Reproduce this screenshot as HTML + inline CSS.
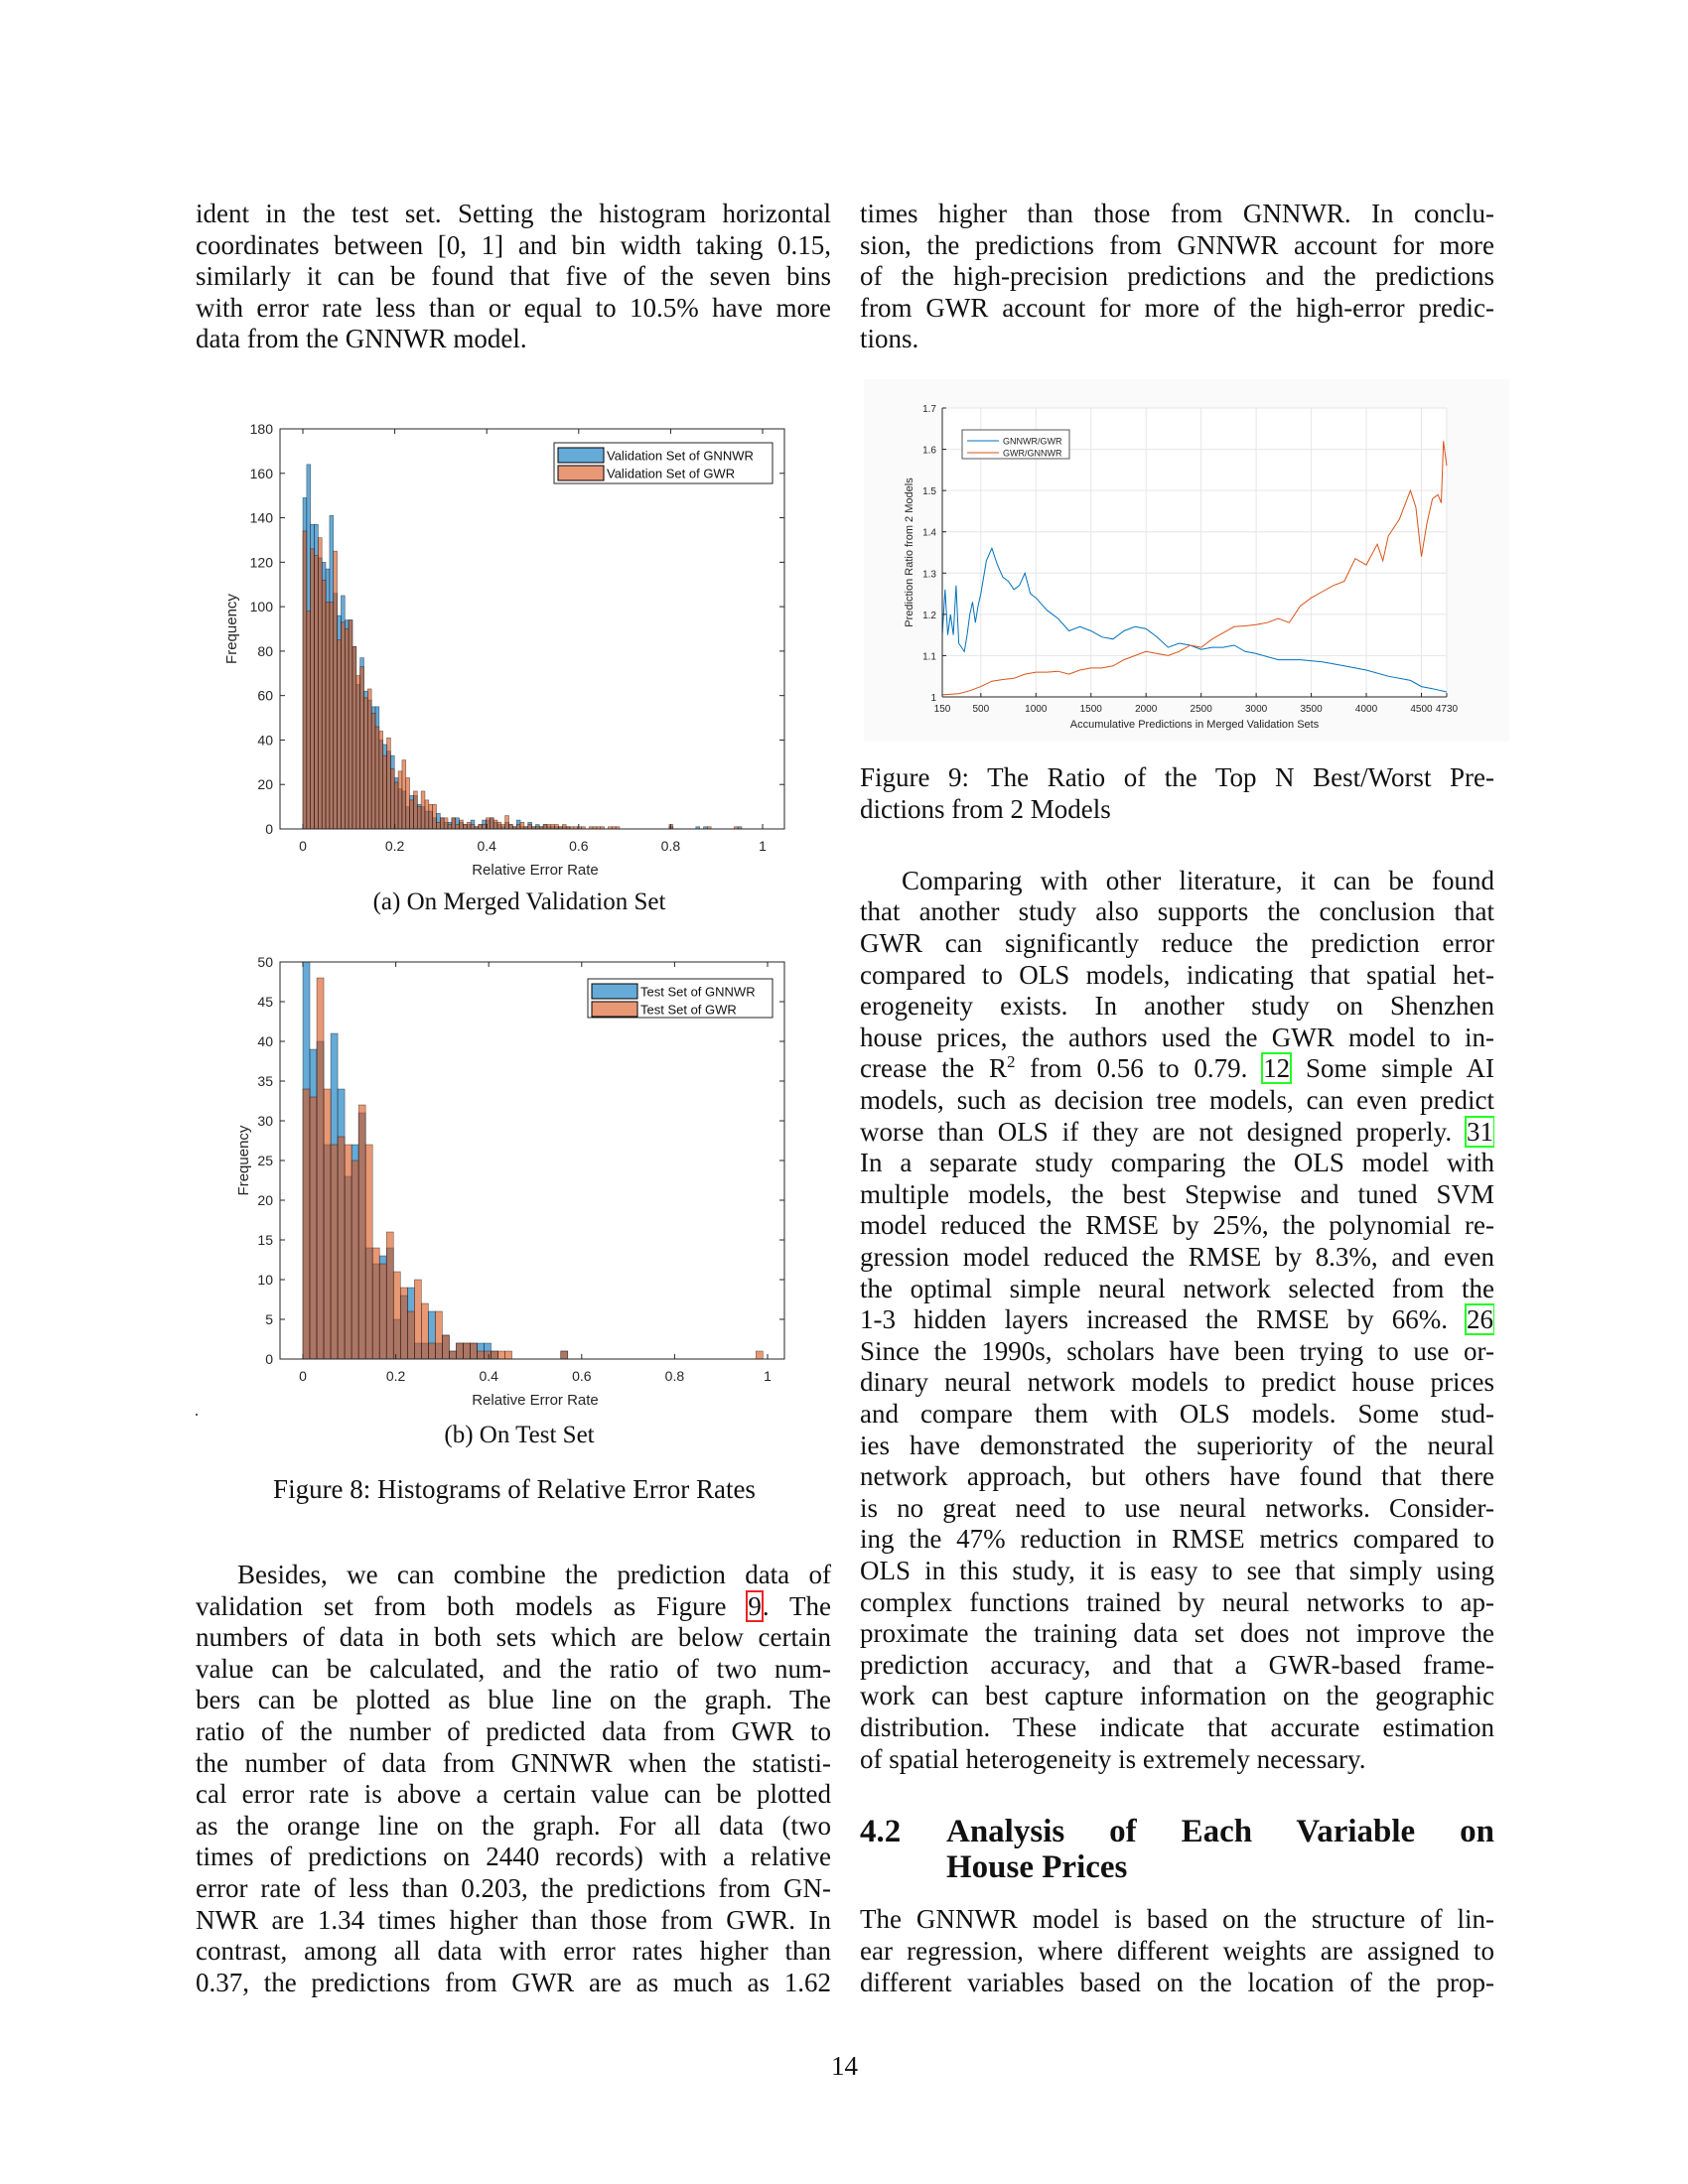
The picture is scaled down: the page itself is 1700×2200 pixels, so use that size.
<!DOCTYPE html>
<html><head><meta charset="utf-8">
<style>
body{margin:0;background:#fff;}
#page{position:relative;width:1700px;height:2200px;background:#fff;overflow:hidden;font-family:"Liberation Serif",serif;color:#111;}
.ln{position:absolute;font-size:27px;line-height:32px;white-space:nowrap;}
.j{text-align:justify;text-align-last:justify;white-space:normal;height:32px;overflow:hidden;}
.cap{position:absolute;font-size:25px;line-height:30px;white-space:nowrap;transform:translateX(-50%);}
.cite{outline:2px solid #2f2;outline-offset:-1px;padding:0 1px;}
.ref{outline:2px solid #e22;outline-offset:-1px;padding:0 1px;}
svg text{font-family:"Liberation Sans",sans-serif;}
</style></head>
<body>
<div id="page">

<div>
<div class="ln j" style="left:197px;width:640px;top:199px">ident in the test set. Setting the histogram horizontal</div>
<div class="ln j" style="left:197px;width:640px;top:231px">coordinates between [0, 1] and bin width taking 0.15,</div>
<div class="ln j" style="left:197px;width:640px;top:262px">similarly it can be found that five of the seven bins</div>
<div class="ln j" style="left:197px;width:640px;top:294px">with error rate less than or equal to 10.5% have more</div>
<div class="ln" style="left:197px;top:325px">data from the GNNWR model.</div>
</div>

<svg id="histA" style="position:absolute;left:0;top:0" width="850" height="900"></svg>
<div class="cap" style="left:523px;top:894px">(a) On Merged Validation Set</div>

<svg id="histB" style="position:absolute;left:0;top:900px" width="850" height="520"></svg>
<div style="position:absolute;left:197px;top:1424px;width:2px;height:2px;background:#555"></div>
<div class="cap" style="left:523px;top:1431px">(b) On Test Set</div>
<div class="cap" style="left:518px;top:1485px;font-size:27px">Figure 8: Histograms of Relative Error Rates</div>

<div>
<div class="ln j" style="left:239px;width:598px;top:1570px">Besides, we can combine the prediction data of</div>
<div class="ln j" style="left:197px;width:640px;top:1602px">validation set from both models as Figure <span class="ref">9</span>. The</div>
<div class="ln j" style="left:197px;width:640px;top:1633px">numbers of data in both sets which are below certain</div>
<div class="ln j" style="left:197px;width:640px;top:1665px">value can be calculated, and the ratio of two num-</div>
<div class="ln j" style="left:197px;width:640px;top:1696px">bers can be plotted as blue line on the graph. The</div>
<div class="ln j" style="left:197px;width:640px;top:1728px">ratio of the number of predicted data from GWR to</div>
<div class="ln j" style="left:197px;width:640px;top:1760px">the number of data from GNNWR when the statisti-</div>
<div class="ln j" style="left:197px;width:640px;top:1791px">cal error rate is above a certain value can be plotted</div>
<div class="ln j" style="left:197px;width:640px;top:1823px">as the orange line on the graph. For all data (two</div>
<div class="ln j" style="left:197px;width:640px;top:1854px">times of predictions on 2440 records) with a relative</div>
<div class="ln j" style="left:197px;width:640px;top:1886px">error rate of less than 0.203, the predictions from GN-</div>
<div class="ln j" style="left:197px;width:640px;top:1918px">NWR are 1.34 times higher than those from GWR. In</div>
<div class="ln j" style="left:197px;width:640px;top:1949px">contrast, among all data with error rates higher than</div>
<div class="ln j" style="left:197px;width:640px;top:1981px">0.37, the predictions from GWR are as much as 1.62</div>
</div>

<div>
<div class="ln j" style="left:866px;width:639px;top:199px">times higher than those from GNNWR. In conclu-</div>
<div class="ln j" style="left:866px;width:639px;top:231px">sion, the predictions from GNNWR account for more</div>
<div class="ln j" style="left:866px;width:639px;top:262px">of the high-precision predictions and the predictions</div>
<div class="ln j" style="left:866px;width:639px;top:294px">from GWR account for more of the high-error predic-</div>
<div class="ln" style="left:866px;top:325px">tions.</div>
</div>

<svg id="fig9" style="position:absolute;left:870px;top:382px" width="650" height="365"></svg>
<div class="ln j" style="left:866px;width:639px;top:767px">Figure 9: The Ratio of the Top N Best/Worst Pre-</div>
<div class="ln" style="left:866px;top:799px">dictions from 2 Models</div>

<div>
<div class="ln j" style="left:908px;width:597px;top:871px">Comparing with other literature, it can be found</div>
<div class="ln j" style="left:866px;width:639px;top:902px">that another study also supports the conclusion that</div>
<div class="ln j" style="left:866px;width:639px;top:934px">GWR can significantly reduce the prediction error</div>
<div class="ln j" style="left:866px;width:639px;top:966px">compared to OLS models, indicating that spatial het-</div>
<div class="ln j" style="left:866px;width:639px;top:997px">erogeneity exists. In another study on Shenzhen</div>
<div class="ln j" style="left:866px;width:639px;top:1029px">house prices, the authors used the GWR model to in-</div>
<div class="ln j" style="left:866px;width:639px;top:1060px">crease the R<sup style="font-size:17px;line-height:0">2</sup> from 0.56 to 0.79. <span class="cite">12</span> Some simple AI</div>
<div class="ln j" style="left:866px;width:639px;top:1092px">models, such as decision tree models, can even predict</div>
<div class="ln j" style="left:866px;width:639px;top:1124px">worse than OLS if they are not designed properly. <span class="cite">31</span></div>
<div class="ln j" style="left:866px;width:639px;top:1155px">In a separate study comparing the OLS model with</div>
<div class="ln j" style="left:866px;width:639px;top:1187px">multiple models, the best Stepwise and tuned SVM</div>
<div class="ln j" style="left:866px;width:639px;top:1218px">model reduced the RMSE by 25%, the polynomial re-</div>
<div class="ln j" style="left:866px;width:639px;top:1250px">gression model reduced the RMSE by 8.3%, and even</div>
<div class="ln j" style="left:866px;width:639px;top:1282px">the optimal simple neural network selected from the</div>
<div class="ln j" style="left:866px;width:639px;top:1313px">1-3 hidden layers increased the RMSE by 66%. <span class="cite">26</span></div>
<div class="ln j" style="left:866px;width:639px;top:1345px">Since the 1990s, scholars have been trying to use or-</div>
<div class="ln j" style="left:866px;width:639px;top:1376px">dinary neural network models to predict house prices</div>
<div class="ln j" style="left:866px;width:639px;top:1408px">and compare them with OLS models. Some stud-</div>
<div class="ln j" style="left:866px;width:639px;top:1440px">ies have demonstrated the superiority of the neural</div>
<div class="ln j" style="left:866px;width:639px;top:1471px">network approach, but others have found that there</div>
<div class="ln j" style="left:866px;width:639px;top:1503px">is no great need to use neural networks. Consider-</div>
<div class="ln j" style="left:866px;width:639px;top:1534px">ing the 47% reduction in RMSE metrics compared to</div>
<div class="ln j" style="left:866px;width:639px;top:1566px">OLS in this study, it is easy to see that simply using</div>
<div class="ln j" style="left:866px;width:639px;top:1598px">complex functions trained by neural networks to ap-</div>
<div class="ln j" style="left:866px;width:639px;top:1629px">proximate the training data set does not improve the</div>
<div class="ln j" style="left:866px;width:639px;top:1661px">prediction accuracy, and that a GWR-based frame-</div>
<div class="ln j" style="left:866px;width:639px;top:1692px">work can best capture information on the geographic</div>
<div class="ln j" style="left:866px;width:639px;top:1724px">distribution. These indicate that accurate estimation</div>
<div class="ln" style="left:866px;top:1756px">of spatial heterogeneity is extremely necessary.</div>
</div>

<div>
<div class="ln" style="left:866px;top:1826px;font-size:33px;font-weight:bold;line-height:38px">4.2</div>
<div class="ln j" style="left:953px;width:552px;top:1826px;font-size:33px;font-weight:bold;line-height:38px;height:38px">Analysis of Each Variable on</div>
<div class="ln" style="left:953px;top:1862px;font-size:33px;font-weight:bold;line-height:38px">House Prices</div>
</div>

<div>
<div class="ln j" style="left:866px;width:639px;top:1917px">The GNNWR model is based on the structure of lin-</div>
<div class="ln j" style="left:866px;width:639px;top:1949px">ear regression, where different weights are assigned to</div>
<div class="ln j" style="left:866px;width:639px;top:1981px">different variables based on the location of the prop-</div>
</div>

<div class="ln" style="left:837px;top:2065px">14</div>
</div>

<script>
var NS="http://www.w3.org/2000/svg";
// ---------- Histogram (a) data ----------
var histABinWidth=0.0083;
var histABlue=[149,164,137,137,122,120,117,141,106,96,105,94,94,82,65,77,62,58,55,55,40,38,35,33,23,18,17,10,15,15,11,10,8,8,5,7,5,3,3,5,5,3,2,2,4,1,2,4,4,5,3,2,1,3,2,1,4,1,1,3,1,2,1,2,1,1,1,1,1,1,0,0,0,0,0,0,0,0,0,0,0,0,0,0,0,0,0,0,0,0,0,0,0,0,0,0,1,0,0,0,0,0,0,1,0,1,0,0,0,0,0,0,0,0,1,0,0,0];
var histAOrange=[134,98,126,123,131,112,102,102,125,85,93,90,94,82,69,73,59,63,52,46,44,33,41,27,21,26,31,23,13,17,10,17,13,11,11,3,5,5,2,5,2,4,2,3,2,1,2,2,5,5,4,3,2,6,2,1,2,3,1,2,1,1,1,2,2,2,2,1,2,1,1,1,1,1,0,1,1,1,1,0,1,1,1,0,0,0,0,0,0,0,0,0,0,0,0,0,2,0,0,0,0,0,0,0,0,0,1,0,0,0,0,0,0,1,0,0,0,0];
var histAXTicks=[0,0.2,0.4,0.6,0.8,1];
var histAXTickLabels=["0","0.2","0.4","0.6","0.8","1"];
var histAYTicks=[0,20,40,60,80,100,120,140,160,180];
var histALegend=["Validation Set of GNNWR","Validation Set of GWR"];
// ---------- Histogram (b) data ----------
var histBBinWidth=0.015;
var histBBlue=[50,39,40,27,41,34,23,27,31,14,12,13,14,5,8,9,2,2,6,2,3,1,2,2,2,2,2,1,0,0,0,0,0,0,0,0,0,1,0,0,0,0,0,0,0,0,0,0,0,0,0,0,0,0,0,0,0,0,0,0,0,0,0,0,0,0];
var histBOrange=[34,33,48,34,27,28,27,25,32,27,14,12,16,11,9,6,10,7,2,6,3,1,2,2,2,1,1,1,1,1,0,0,0,0,0,0,0,1,0,0,0,0,0,0,0,0,0,0,0,0,0,0,0,0,0,0,0,0,0,0,0,0,0,0,0,1];
var histBXTicks=[0,0.2,0.4,0.6,0.8,1];
var histBXTickLabels=["0","0.2","0.4","0.6","0.8","1"];
var histBYTicks=[0,5,10,15,20,25,30,35,40,45,50];
var histBLegend=["Test Set of GNNWR","Test Set of GWR"];
// ---------- Figure 9 data ----------
var fig9BlueX=[150,175,200,225,250,275,300,325,350,375,400,425,450,475,500,550,600,650,700,750,800,850,900,950,1000,1100,1200,1300,1400,1500,1600,1700,1800,1900,2000,2100,2200,2300,2400,2500,2600,2700,2800,2900,3000,3200,3400,3600,3800,4000,4200,4400,4500,4600,4730];
var fig9BlueY=[1.15,1.26,1.15,1.2,1.15,1.27,1.13,1.12,1.11,1.15,1.2,1.23,1.18,1.22,1.25,1.33,1.36,1.32,1.29,1.28,1.26,1.27,1.3,1.25,1.24,1.21,1.19,1.16,1.17,1.16,1.145,1.14,1.16,1.17,1.165,1.145,1.12,1.13,1.125,1.115,1.12,1.12,1.125,1.11,1.105,1.09,1.09,1.085,1.075,1.065,1.05,1.04,1.025,1.02,1.012];
var fig9OrangeX=[150,300,400,500,600,700,800,900,1000,1100,1200,1300,1400,1500,1600,1700,1800,1900,2000,2100,2200,2300,2400,2500,2600,2700,2800,2900,3000,3100,3200,3300,3400,3500,3600,3700,3800,3900,4000,4100,4150,4200,4300,4400,4450,4500,4550,4600,4650,4680,4700,4730];
var fig9OrangeY=[1.005,1.008,1.015,1.025,1.038,1.042,1.045,1.055,1.06,1.06,1.062,1.055,1.065,1.07,1.07,1.075,1.09,1.1,1.11,1.105,1.1,1.11,1.125,1.12,1.14,1.155,1.17,1.172,1.175,1.18,1.19,1.18,1.22,1.24,1.255,1.27,1.28,1.335,1.32,1.37,1.33,1.39,1.43,1.5,1.46,1.34,1.42,1.48,1.49,1.47,1.62,1.56];
var fig9XTicks=[150,500,1000,1500,2000,2500,3000,3500,4000,4500,4730];
var fig9XTickLabels=["150","500","1000","1500","2000","2500","3000","3500","4000","4500","4730"];
var fig9YTicks=[1,1.1,1.2,1.3,1.4,1.5,1.6,1.7];
var fig9YTickLabels=["1","1.1","1.2","1.3","1.4","1.5","1.6","1.7"];
var fig9Legend=["GNNWR/GWR","GWR/GNNWR"];

function mk(svg,tag,attrs){var e=document.createElementNS(NS,tag);for(var k in attrs)e.setAttribute(k,attrs[k]);svg.appendChild(e);return e;}

function drawHist(svg,box,blue,orange,bw,yTicks,xTicks,xLabels,legend,lg,prefix){
  var yMax=yTicks[yTicks.length-1];
  var sx=function(v){return box.x0+v*(box.x1v-box.x0);};
  var sy=function(v){return box.b-v/yMax*(box.b-box.t);};
  var r=mk(svg,"rect",{x:box.l,y:box.t,width:box.r-box.l,height:box.b-box.t,fill:"#fff",stroke:"none"});
  
  
  var series=[[blue,"#0072BD","gnnwr"],[orange,"#D95319","gwr"]];
  series.forEach(function(s){
    s[0].forEach(function(v,i){
      if(v<=0)return;
      var x=sx(i*bw),w=sx((i+1)*bw)-x;
      var b=mk(svg,"rect",{x:x,y:sy(v),width:w,height:sy(0)-sy(v),fill:s[1],"fill-opacity":0.6,stroke:"#000","stroke-opacity":0.55,"stroke-width":0.6});
      
      
    });
  });
  mk(svg,"rect",{x:box.l,y:box.t,width:box.r-box.l,height:box.b-box.t,fill:"none",stroke:"#262626","stroke-width":1});
  yTicks.forEach(function(t){
    var y=sy(t);
    mk(svg,"line",{x1:box.l,x2:box.l+5,y1:y,y2:y,stroke:"#262626"});
    mk(svg,"line",{x1:box.r,x2:box.r-5,y1:y,y2:y,stroke:"#262626"});
    var tx=mk(svg,"text",{x:box.l-7,y:y+5,"text-anchor":"end","font-size":14,fill:"#262626"});
    tx.textContent=t;
    
    
  });
  xTicks.forEach(function(t,i){
    var x=sx(t);
    mk(svg,"line",{x1:x,x2:x,y1:box.b,y2:box.b-5,stroke:"#262626"});
    mk(svg,"line",{x1:x,x2:x,y1:box.t,y2:box.t+5,stroke:"#262626"});
    var tx=mk(svg,"text",{x:x,y:box.b+22,"text-anchor":"middle","font-size":14,fill:"#262626"});
    tx.textContent=xLabels[i];
    
    
  });
  var xl=mk(svg,"text",{x:(box.l+box.r)/2+3,y:box.b+46,"text-anchor":"middle","font-size":15,fill:"#262626"});
  xl.textContent="Relative Error Rate";
  
  
  var yl=mk(svg,"text",{x:0,y:0,"text-anchor":"middle","font-size":15,fill:"#262626",transform:"translate("+box.yl+","+((box.t+box.b)/2)+") rotate(-90)"});
  yl.textContent="Frequency";
  
  
  var lr=mk(svg,"rect",{x:lg.x,y:lg.y,width:lg.w,height:lg.h,fill:"#fff",stroke:"#262626","stroke-width":1});
  
  
  legend.forEach(function(n,i){
    var yy=lg.y+5+i*18;
    var sw=mk(svg,"rect",{x:lg.x+4,y:yy,width:46,height:15,fill:series[i][1],"fill-opacity":0.6,stroke:"#000","stroke-width":1});
    
    
    var t=mk(svg,"text",{x:lg.x+53,y:yy+12.5,"font-size":13,fill:"#111"});
    t.textContent=n;
    
    
  });
}

drawHist(document.getElementById("histA"),{l:282,r:790,t:432,b:835,x0:305,x1v:768,yl:238},histABlue,histAOrange,histABinWidth,histAYTicks,histAXTicks,histAXTickLabels,histALegend,{x:558,y:446,w:220,h:41},"hist-a");
drawHist(document.getElementById("histB"),{l:282,r:790,t:69,b:469,x0:305,x1v:773,yl:250},histBBlue,histBOrange,histBBinWidth,histBYTicks,histBXTicks,histBXTickLabels,histBLegend,{x:592,y:86,w:186,h:39},"hist-b");

// ---------- Figure 9 ----------
(function(){
  var svg=document.getElementById("fig9");
  var L=79,R=587,T=29,B=320;
  var sx=function(v){return L+(v-150)/(4730-150)*(R-L);};
  var sy=function(v){return B-(v-1)/0.7*(B-T);};
  var bg=mk(svg,"rect",{x:0,y:0,width:650,height:365,fill:"#fafafa"});
  
  
  mk(svg,"rect",{x:L,y:T,width:R-L,height:B-T,fill:"#fff"});
  fig9XTicks.forEach(function(t){mk(svg,"line",{x1:sx(t),x2:sx(t),y1:T,y2:B,stroke:"#e6e6e6"});});
  fig9YTicks.forEach(function(t){mk(svg,"line",{x1:L,x2:R,y1:sy(t),y2:sy(t),stroke:"#e6e6e6"});});
  function line(xs,ys,c,name){
    var d=xs.map(function(x,i){return (i?"L":"M")+sx(x).toFixed(1)+","+sy(ys[i]).toFixed(1);}).join("");
    var p=mk(svg,"path",{d:d,fill:"none",stroke:c,"stroke-width":1});
    
    
  }
  line(fig9BlueX,fig9BlueY,"#0072BD","gnnwr-gwr-line");
  line(fig9OrangeX,fig9OrangeY,"#D95319","gwr-gnnwr-line");
  mk(svg,"line",{x1:L,x2:L,y1:T,y2:B,stroke:"#262626"});
  mk(svg,"line",{x1:L,x2:R,y1:B,y2:B,stroke:"#262626"});
  fig9YTicks.forEach(function(t,i){
    mk(svg,"line",{x1:L,x2:L+4,y1:sy(t),y2:sy(t),stroke:"#262626"});
    var tx=mk(svg,"text",{x:L-6,y:sy(t)+4,"text-anchor":"end","font-size":10,fill:"#262626"});
    tx.textContent=fig9YTickLabels[i];
    
    
  });
  fig9XTicks.forEach(function(t,i){
    mk(svg,"line",{x1:sx(t),x2:sx(t),y1:B,y2:B-4,stroke:"#262626"});
    var tx=mk(svg,"text",{x:sx(t),y:B+15,"text-anchor":"middle","font-size":10,fill:"#262626"});
    tx.textContent=fig9XTickLabels[i];
    
    
  });
  var xl=mk(svg,"text",{x:(L+R)/2,y:B+31,"text-anchor":"middle","font-size":11,fill:"#262626"});
  xl.textContent="Accumulative Predictions in Merged Validation Sets";
  
  
  var yl=mk(svg,"text",{x:0,y:0,"text-anchor":"middle","font-size":11,fill:"#262626",transform:"translate(49,"+((T+B)/2)+") rotate(-90)"});
  yl.textContent="Prediction Ratio from 2 Models";
  
  
  var lr=mk(svg,"rect",{x:99,y:51,width:108,height:29,fill:"#fff",stroke:"#555"});
  
  
  var cols=["#0072BD","#D95319"];
  fig9Legend.forEach(function(n,i){
    var y=62+i*12;
    mk(svg,"line",{x1:104,x2:136,y1:y,y2:y,stroke:cols[i]});
    var t=mk(svg,"text",{x:140,y:y+3.5,"font-size":9,fill:"#222"});
    t.textContent=n;
    
    
  });
})();
</script>
</body></html>
